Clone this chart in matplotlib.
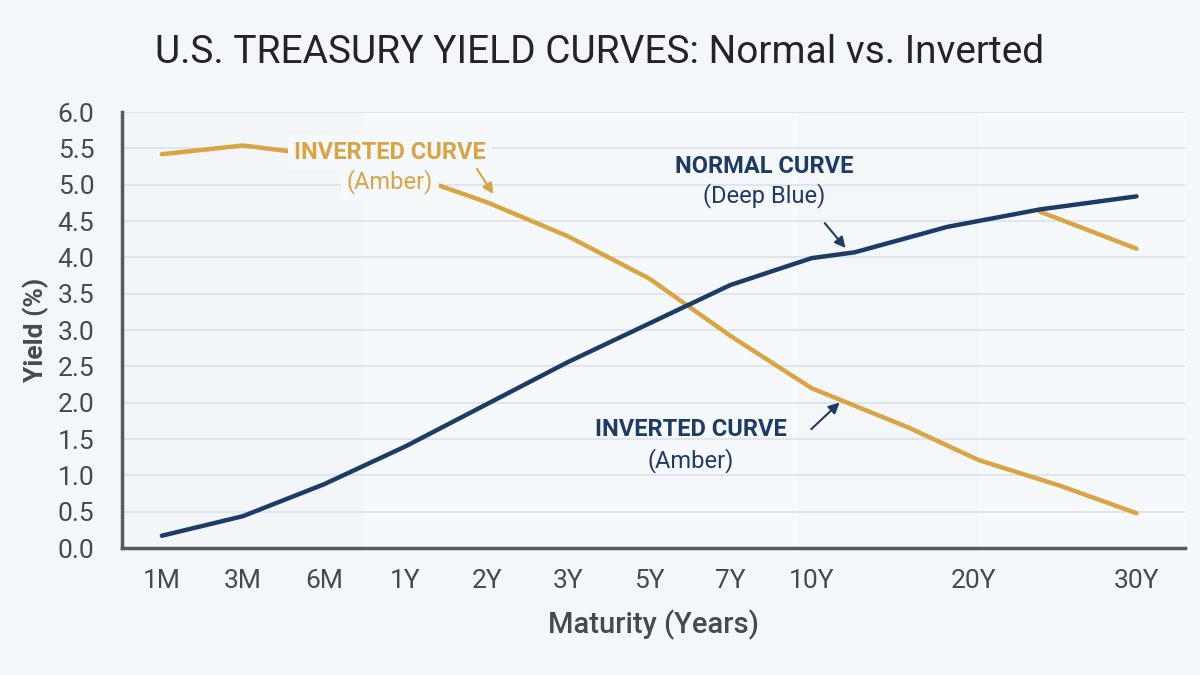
import matplotlib.pyplot as plt
from matplotlib.ticker import MultipleLocator

plt.rcParams['font.family'] = ['Roboto', 'DejaVu Sans']

tick_labels = ["1M", "3M", "6M", "1Y", "2Y", "3Y", "5Y", "7Y", "10Y", "20Y", "30Y"]
tick_pos = [0, 1, 2, 3, 4, 5, 6, 7, 8, 10, 12]

normal_x = [0, 1, 2, 3, 4, 5, 6, 7, 8, 8.53, 9.67, 10.81, 12.0]
normal_y = [0.17, 0.44, 0.88, 1.40, 1.98, 2.56, 3.09, 3.62, 3.99, 4.07, 4.42, 4.66, 4.84]

inverted_x = [0, 1, 2, 3, 4, 5, 6, 7, 8, 9.19, 10.06, 11.08, 12.0]
inverted_y = [5.42, 5.54, 5.40, 5.15, 4.76, 4.29, 3.71, 2.92, 2.20, 1.66, 1.21, 0.85, 0.48]

# short amber branch near the top right
branch_x = [10.81, 12.0]
branch_y = [4.63, 4.12]

NAVY = "#1e3a66"
AMBER = "#d9a442"
BG = "#f4f7fa"
PLOT_BG = "#f6f9fc"

fig = plt.figure(figsize=(12, 6.75), dpi=100, facecolor=BG)
ax = fig.add_axes([0.1017, 0.188, 0.886, 0.646])
ax.set_facecolor(PLOT_BG)

# faint vertical bands
ax.axvspan(-0.5, 2.5, color="#f3f6f9", lw=0, zorder=0)
ax.axvspan(7.85, 10.05, color="#f4f7fa", lw=0, zorder=0)

ax.plot(inverted_x, inverted_y, color=AMBER, lw=3.2, solid_capstyle="round", zorder=3)
ax.plot(branch_x, branch_y, color=AMBER, lw=3.2, solid_capstyle="round", zorder=3)
ax.plot(normal_x, normal_y, color=NAVY, lw=3.2, solid_capstyle="round", zorder=4)

ax.set_xlim(-0.49, 12.6)
ax.set_ylim(0, 6)
ax.yaxis.set_major_locator(MultipleLocator(0.5))
ax.yaxis.set_major_formatter(lambda v, p: f"{v:.1f}")
ax.set_xticks(tick_pos)
ax.set_xticklabels(tick_labels)
ax.grid(axis="y", color="#dde2e8", lw=1.2, zorder=1)
ax.set_axisbelow(True)

for s in ["top", "right"]:
    ax.spines[s].set_visible(False)
for s in ["left", "bottom"]:
    ax.spines[s].set_color("#555a60")
    ax.spines[s].set_linewidth(2.5)

ax.tick_params(axis="both", length=0, labelsize=19, labelcolor="#454a50")
ax.tick_params(axis="x", pad=15)
ax.tick_params(axis="y", pad=20)

ax.set_xlabel("Maturity (Years)", fontsize=21, color="#454a50", fontweight="medium", labelpad=12)
ax.set_ylabel("Yield (%)", fontsize=19, color="#454a50", fontweight="semibold", labelpad=6)

fig.text(0.5, 0.922, "U.S. TREASURY YIELD CURVES: Normal vs. Inverted",
         ha="center", va="center", fontsize=28, color="#222428")

# annotations
ax.text(2.81, 5.45, "INVERTED CURVE", ha="center", va="center", fontsize=17,
        fontweight="semibold", color=AMBER, zorder=5,
        bbox=dict(boxstyle="square,pad=0.25", fc=PLOT_BG, ec="none"))
ax.text(2.81, 5.04, "(Amber)", ha="center", va="center", fontsize=17,
        color=AMBER, zorder=5,
        bbox=dict(boxstyle="square,pad=0.25", fc=PLOT_BG, ec="none"))
ax.annotate("", xy=(4.1, 4.84), xytext=(3.86, 5.25),
            arrowprops=dict(arrowstyle="-|>", color=AMBER, lw=1.5, mutation_scale=16), zorder=5)

ax.text(7.42, 5.25, "NORMAL CURVE", ha="center", va="center", fontsize=17,
        fontweight="semibold", color=NAVY, zorder=5)
ax.text(7.42, 4.85, "(Deep Blue)", ha="center", va="center", fontsize=17,
        color=NAVY, zorder=5)
ax.annotate("", xy=(8.44, 4.1), xytext=(8.14, 4.5),
            arrowprops=dict(arrowstyle="-|>", color=NAVY, lw=1.5, mutation_scale=16), zorder=5)

ax.text(6.51, 1.63, "INVERTED CURVE", ha="center", va="center", fontsize=17,
        fontweight="semibold", color=NAVY, zorder=5)
ax.text(6.51, 1.21, "(Amber)", ha="center", va="center", fontsize=17,
        color=NAVY, zorder=5)
ax.annotate("", xy=(8.37, 2.03), xytext=(7.97, 1.61),
            arrowprops=dict(arrowstyle="-|>", color=NAVY, lw=1.5, mutation_scale=16), zorder=5)

fig.savefig("out.png", dpi=100, facecolor=BG)
